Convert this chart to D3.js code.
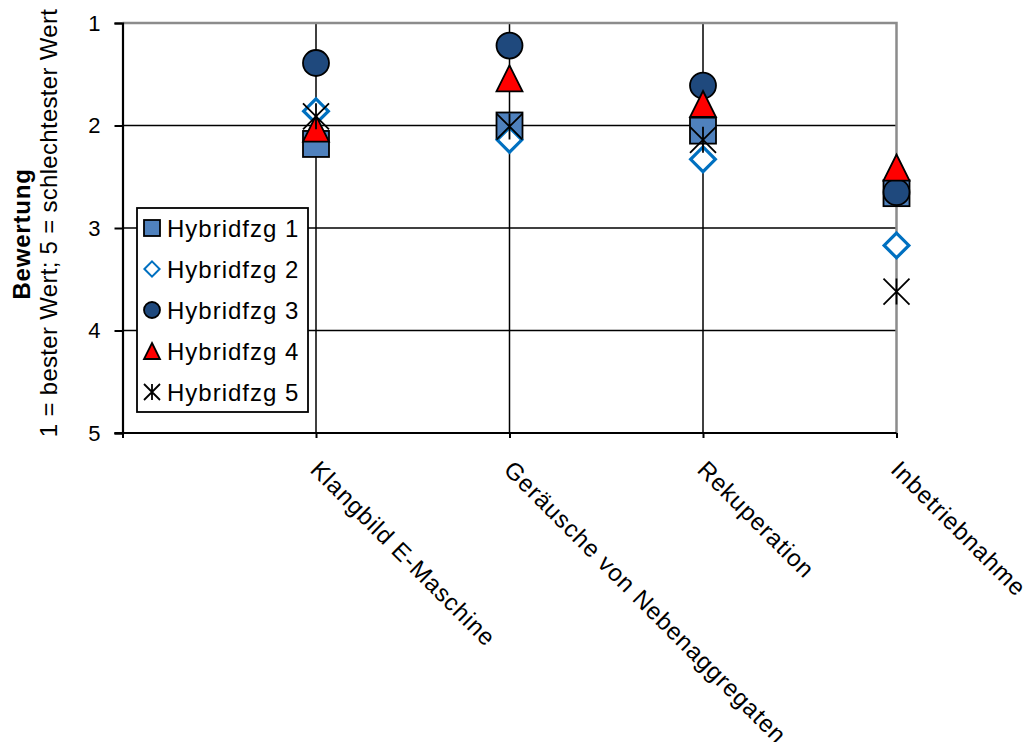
<!DOCTYPE html>
<html><head><meta charset="utf-8">
<script src="https://cdn.jsdelivr.net/npm/d3@7"></script>
<style>body{margin:0;background:#fff}svg{display:block}text{font-family:"Liberation Sans",Arial,sans-serif}</style>
</head><body>
<svg id="c" width="1029" height="742"></svg>
<script>
const categories = ["Klangbild E-Maschine", "Geräusche von Nebenaggregaten", "Rekuperation", "Inbetriebnahme"];
const seriesNames = ["Hybridfzg 1", "Hybridfzg 2", "Hybridfzg 3", "Hybridfzg 4", "Hybridfzg 5"];
const hybrid1 = [2.18, 2.0, 2.05, 2.66];
const hybrid2 = [1.86, 2.14, 2.33, 3.17];
const hybrid3 = [1.39, 1.22, 1.61, 2.65];
const hybrid4 = [2.03, 1.54, 1.79, 2.41];
const hybrid5 = [1.91, 2.01, 2.14, 3.62];
const yTicks = [1, 2, 3, 4, 5];
const yTitle1 = "Bewertung";
const yTitle2 = "1 = bester Wert; 5 = schlechtester Wert";

const series = [hybrid1, hybrid2, hybrid3, hybrid4, hybrid5];
const styles = [
  {shape: "square", fill: "#4F81BD", stroke: "#000", sw: 1.8},
  {shape: "diamond", fill: "#fff", stroke: "#0070C0", sw: 3.2},
  {shape: "circle", fill: "#1F497D", stroke: "#000", sw: 1.8},
  {shape: "triangle", fill: "#FF0000", stroke: "#000", sw: 1.8},
  {shape: "star", fill: "none", stroke: "#000", sw: 1.8}
];

const svg = d3.select("#c");
const L = 122.5, R = 896.5, T = 23, B = 433;
const x = d3.scaleLinear().domain([0, categories.length]).range([L, R]);
const y = d3.scaleLinear().domain([1, 5]).range([T, B]);

// gridlines
const g = svg.append("g");
g.selectAll("line.h").data(yTicks.filter(v => v > 1 && v < 5)).join("line")
  .attr("x1", L).attr("x2", R).attr("y1", d => y(d)).attr("y2", d => y(d))
  .attr("stroke", "#000").attr("stroke-width", 1.5);
g.selectAll("line.v").data(categories.slice(0, categories.length - 1)).join("line")
  .attr("x1", (d, i) => x(i + 1)).attr("x2", (d, i) => x(i + 1)).attr("y1", T).attr("y2", B)
  .attr("stroke", "#000").attr("stroke-width", 1.5);
// gray border top/right
g.append("path").attr("d", `M${L},${T}H${R}V${B}`).attr("fill", "none")
  .attr("stroke", "#8c8c8c").attr("stroke-width", 2.5);

// y axis
const yAxis = d3.axisLeft(y).tickValues(yTicks).tickSize(8).tickPadding(14).tickFormat(d3.format("d"));
const ya = svg.append("g").attr("transform", `translate(${L},0)`).call(yAxis);
ya.attr("font-size", null).attr("font-family", null);
ya.select(".domain").attr("stroke", "#000").attr("stroke-width", 2.2);
ya.selectAll(".tick line").attr("stroke", "#000").attr("stroke-width", 2);
ya.selectAll(".tick text").attr("font-size", 22).attr("fill", "#000");

// x axis
const xAxis = d3.axisBottom(x).tickValues(d3.range(0, categories.length + 1)).tickSize(5).tickFormat("");
const xa = svg.append("g").attr("transform", `translate(0,${B})`).call(xAxis);
xa.select(".domain").attr("stroke", "#000").attr("stroke-width", 2.2).attr("d", `M${L - 8},0H${R}`);
xa.selectAll(".tick line").attr("stroke", "#000").attr("stroke-width", 2);

// category labels
svg.append("g").selectAll("text").data(categories).join("text")
  .attr("transform", (d, i) => `translate(${x(i + 1) - 7},${B + 38}) rotate(45)`)
  .attr("font-size", 24).attr("letter-spacing", 0.9).attr("fill", "#000").attr("text-anchor", "start")
  .text(d => d);

// y title
svg.append("text").attr("transform", "translate(30,234) rotate(-90)").attr("text-anchor", "middle")
  .attr("font-size", 24).attr("letter-spacing", 0.8).attr("font-weight", "bold").attr("fill", "#000").text(yTitle1);
svg.append("text").attr("transform", "translate(57,223) rotate(-90)").attr("text-anchor", "middle")
  .attr("font-size", 24).attr("letter-spacing", 0.3).attr("fill", "#000").text(yTitle2);

function drawMarker(sel, st, s) {
  if (st.shape === "square") {
    sel.append("rect").attr("x", -s).attr("y", -s).attr("width", 2 * s).attr("height", 2 * s)
      .attr("fill", st.fill).attr("stroke", st.stroke).attr("stroke-width", st.sw);
  } else if (st.shape === "diamond") {
    const d = s * 0.95;
    sel.append("path").attr("d", `M0,${-d}L${d},0L0,${d}L${-d},0Z`)
      .attr("fill", st.fill).attr("stroke", st.stroke).attr("stroke-width", st.sw);
  } else if (st.shape === "circle") {
    sel.append("circle").attr("r", s).attr("fill", st.fill).attr("stroke", st.stroke).attr("stroke-width", st.sw);
  } else if (st.shape === "triangle") {
    sel.append("path").attr("d", `M0,${-s}L${s},${s}L${-s},${s}Z`)
      .attr("fill", st.fill).attr("stroke", st.stroke).attr("stroke-width", st.sw);
  } else if (st.shape === "star") {
    const d = s;
    sel.append("path").attr("d", `M${-d},${-d}L${d},${d}M${-d},${d}L${d},${-d}M0,${-d}V${d}`)
      .attr("fill", "none").attr("stroke", st.stroke).attr("stroke-width", st.sw);
  }
}

// data markers
series.forEach((vals, si) => {
  const gs = svg.append("g");
  vals.forEach((v, ci) => {
    const m = gs.append("g").attr("transform", `translate(${x(ci + 1)},${y(v)})`);
    drawMarker(m, styles[si], 13);
  });
});

// legend
const lg = svg.append("g");
lg.append("rect").attr("x", 137).attr("y", 208).attr("width", 171).attr("height", 204)
  .attr("fill", "#fff").attr("stroke", "#000").attr("stroke-width", 1.8);
seriesNames.forEach((n, i) => {
  const cy = 228 + i * 41;
  const m = lg.append("g").attr("transform", `translate(152,${cy})`);
  const st = Object.assign({}, styles[i]);
  if (st.shape === "diamond") st.sw = 2;
  drawMarker(m, st, 8);
  lg.append("text").attr("x", 167).attr("y", cy).attr("dy", "0.36em")
    .attr("font-size", 24).attr("letter-spacing", 1).attr("fill", "#000").text(n);
});
</script>
</body></html>
